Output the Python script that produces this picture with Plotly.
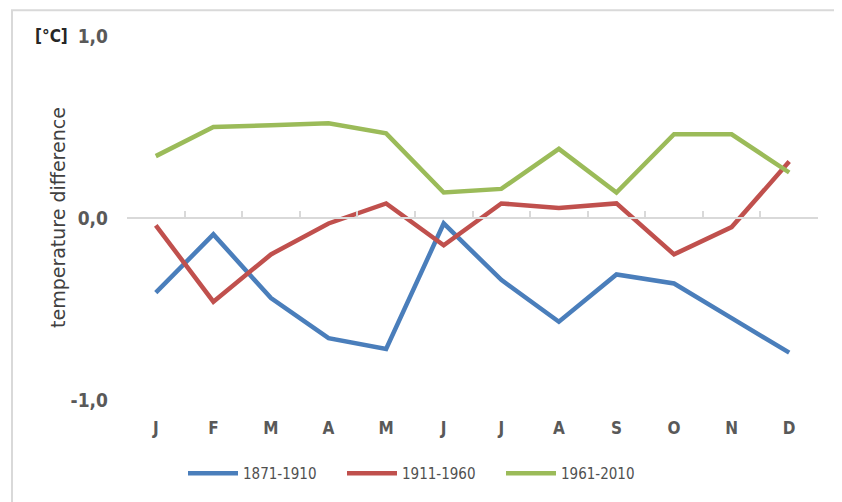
import plotly.graph_objects as go

months = ["J", "F", "M", "A", "M", "J", "J", "A", "S", "O", "N", "D"]
month_keys = [f"{m}{i}" for i, m in enumerate(months)]
s1871 = [-0.41, -0.09, -0.44, -0.66, -0.72, -0.03, -0.34, -0.57, -0.31, -0.36, -0.55, -0.74]
s1911 = [-0.04, -0.46, -0.20, -0.03, 0.08, -0.15, 0.08, 0.055, 0.08, -0.20, -0.05, 0.31]
s1961 = [0.34, 0.50, 0.51, 0.52, 0.465, 0.14, 0.16, 0.38, 0.14, 0.46, 0.46, 0.25]
series_names = ["1871-1910", "1911-1960", "1961-2010"]
colors = ["#4A7EBB", "#C0504D", "#9BBB59"]
y_tickvals = [-1.0, 0.0, 1.0]
y_ticktext = ["-1,0", "0,0", "1,0"]

# page body adds an 8px offset, so the figure is laid out 8px smaller
W, H = 834, 494
L, R, T, B = 119, 24, 28, 99
pw, ph = W - L - R, H - T - B

fig = go.Figure()
for name, vals, col in zip(series_names, [s1871, s1911, s1961], colors):
    fig.add_trace(go.Scatter(x=month_keys, y=vals, mode="lines", name=name,
                             line=dict(color=col, width=4.5)))
# helper trace to materialise the zero-crossing axis
fig.add_trace(go.Scatter(x=month_keys, y=[None] * 12, xaxis="x2", showlegend=False,
                         hoverinfo="skip"))

narrow = "'Liberation Sans Narrow', 'Arial Narrow', 'DejaVu Sans Condensed', sans-serif"
wide = "'DejaVu Sans', sans-serif"
fig.update_layout(
    width=W, height=H,
    margin=dict(l=L, r=R, t=T, b=B),
    paper_bgcolor="white", plot_bgcolor="white",
    font=dict(family=narrow, color="#595959"),
    xaxis=dict(type="category", categoryorder="array", categoryarray=month_keys,
               range=[-0.5, 11.5], tickvals=month_keys,
               ticktext=[f"<b>{m}</b>" for m in months],
               showgrid=False, showline=False, ticks="", zeroline=False,
               tickfont=dict(size=17, color="#595959", family=narrow),
               ticklabelstandoff=16),
    xaxis2=dict(type="category", categoryorder="array", categoryarray=month_keys,
                overlaying="x", anchor="free", position=0.5, side="bottom",
                range=[-0.5, 11.5], showticklabels=False, showgrid=False,
                showline=True, linecolor="#D9D9D9", linewidth=1.5,
                ticks="inside", tickson="boundaries", ticklen=6, tickcolor="#D9D9D9",
                tickwidth=1.5),
    yaxis=dict(range=[-1.0, 1.0], tickvals=y_tickvals,
               ticktext=[f"<b>{t}</b>" for t in y_ticktext],
               showgrid=True, gridcolor="#D9D9D9", gridwidth=1.5, zeroline=False,
               showline=False, ticks="",
               tickfont=dict(size=19, color="#595959", family=narrow),
               ticklabelstandoff=18),
    legend=dict(orientation="h", x=(183 - 8 - L) / pw, xanchor="left",
                y=-(477 - 8 - (H - B)) / ph, yanchor="middle",
                font=dict(size=15, color="#505050", family=narrow),
                entrywidth=94, itemwidth=50, bgcolor="rgba(0,0,0,0)"),
    annotations=[
        dict(text="<b>[°C]</b>", xref="paper", yref="paper",
             x=(33 - 8 - L) / pw, y=1.0, xanchor="left", yanchor="middle",
             showarrow=False, font=dict(size=17, color="#262626", family=narrow)),
        dict(text="temperature difference", xref="paper", yref="paper",
             x=(58 - 8 - L) / pw, y=0.5, xanchor="center", yanchor="middle",
             textangle=-90, showarrow=False,
             font=dict(size=19, color="#404040", family=wide)),
    ],
    shapes=[dict(type="rect", xref="paper", yref="paper",
                 x0=(12 - 8 - L) / pw, x1=(840 - 8 - L) / pw,
                 y0=-(510 - (H - B)) / ph, y1=1 + (T - 2) / ph,
                 line=dict(color="#D9D9D9", width=2), layer="below")],
)

fig.write_html("out.html")
